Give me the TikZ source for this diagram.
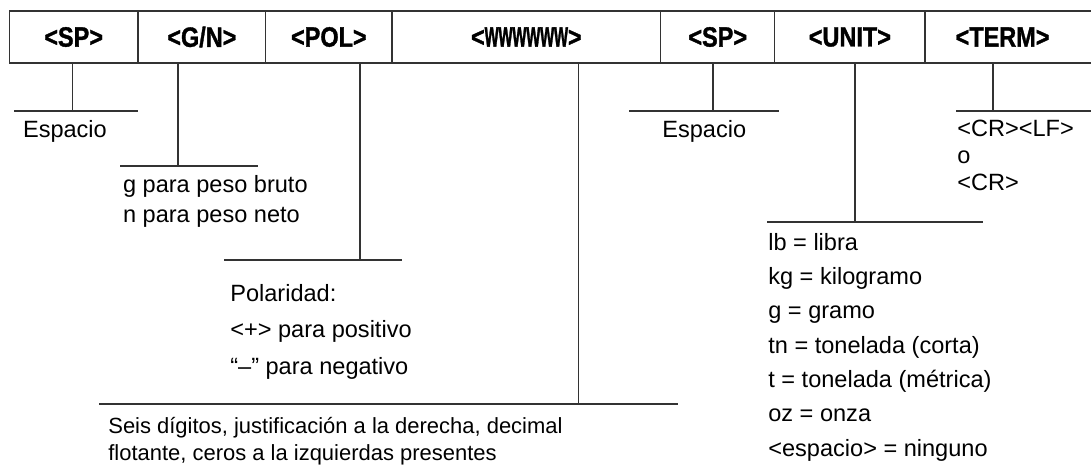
\documentclass[tikz,border=0pt]{standalone}
\usepackage{graphicx}
\usepackage{fontspec}
\setmainfont{Liberation Sans}
\newfontfamily\hdrfont[FakeStretch=0.84, FakeBold=1.2]{Liberation Sans Bold}
\usetikzlibrary{positioning}

\begin{document}
\begin{tikzpicture}[x=0.2mm, y=-0.2mm,
    cell/.style={draw=black!80, line width=0.25mm, minimum height=10.4mm, inner sep=0pt, outer sep=0pt,
        font=\hdrfont\fontsize{15.9}{18}\selectfont},
    leg/.style={draw=black!80, line width=0.25mm},
    desc/.style={anchor=north west, inner sep=0pt, align=left, font=\fontsize{13.4}{#1}\selectfont},
    desc/.default=16]
    \useasboundingbox (0,0) rectangle (1091,474);

    % Header fields
    \node[cell, minimum width=25.74mm, anchor=north west] (sp1) at (9.3,11) {<SP>};
    \node[cell, minimum width=25.54mm, right=0pt of sp1] (gn) {<G/N>};
    \node[cell, minimum width=25.26mm, right=0pt of gn] (pol) {<POL>};
    \node[cell, minimum width=53.74mm, right=0pt of pol] (wt) {<\scalebox{0.76}[1.3]{wwwwww}>};
    \node[cell, minimum width=22.8mm, right=0pt of wt] (sp2) {<SP>};
    \node[cell, minimum width=30.06mm, right=0pt of sp2] (unit) {<UNIT>};
    \node[cell, minimum width=35mm, right=0pt of unit] (term) {<TERM>\hspace*{4mm}};

    % Feet of the legs
    \coordinate (spfoot) at (72.7,111);
    \coordinate (gnfoot) at (178,166);
    \coordinate (polfoot) at (360,260);
    \coordinate (wfoot) at (578.7,404);
    \coordinate (sptwofoot) at (713,111);
    \coordinate (unitfoot) at (855,222);
    \coordinate (termfoot) at (993,111);

    % Legs
    \draw[leg] (spfoot |- sp1.south) -- (spfoot);
    \draw[leg] (gnfoot |- gn.south) -- (gnfoot);
    \draw[leg] (polfoot |- pol.south) -- (polfoot);
    \draw[leg] (wfoot |- wt.south) -- (wfoot);
    \draw[leg] (sptwofoot |- sp2.south) -- (sptwofoot);
    \draw[leg] (unitfoot |- unit.south) -- (unitfoot);
    \draw[leg] (termfoot |- term.south) -- (termfoot);

    % Bars
    \draw[leg] (14,111) -- (138,111);
    \draw[leg] (120,166) -- (258,166);
    \draw[leg] (224,260) -- (401.7,260);
    \draw[leg] (99,404) -- (678,404);
    \draw[leg] (629,111) -- (779,111);
    \draw[leg] (767,222) -- (983,222);
    \draw[leg] (956,111) -- (1100,111);

    % Descriptions
    \node[desc] (spdesc) at (22.7,120) {Espacio};
    \node[desc=17.1] (gndesc) at (122.7,175) {g para peso bruto\\n para peso neto};
    \node[desc=20.8] (poldesc) at (230,284) {Polaridad:\\<+> para positivo\\“–” para negativo};
    \node[desc, font=\fontsize{12.5}{15.4}\selectfont] (wdesc) at (108,417)
        {Seis dígitos, justificación a la derecha, decimal\\flotante, ceros a la izquierdas presentes};
    \node[desc] (sptwodesc) at (662,120) {Espacio};
    \node[desc=19.5] (unitdesc) at (768,233)
        {lb = libra\\kg = kilogramo\\g = gramo\\tn = tonelada (corta)\\t = tonelada (métrica)\\oz = onza\\<espacio> = ninguno};
    \node[desc=15.4] (termdesc) at (957,120) {<CR><LF>\\o\\<CR>};
\end{tikzpicture}
\end{document}
